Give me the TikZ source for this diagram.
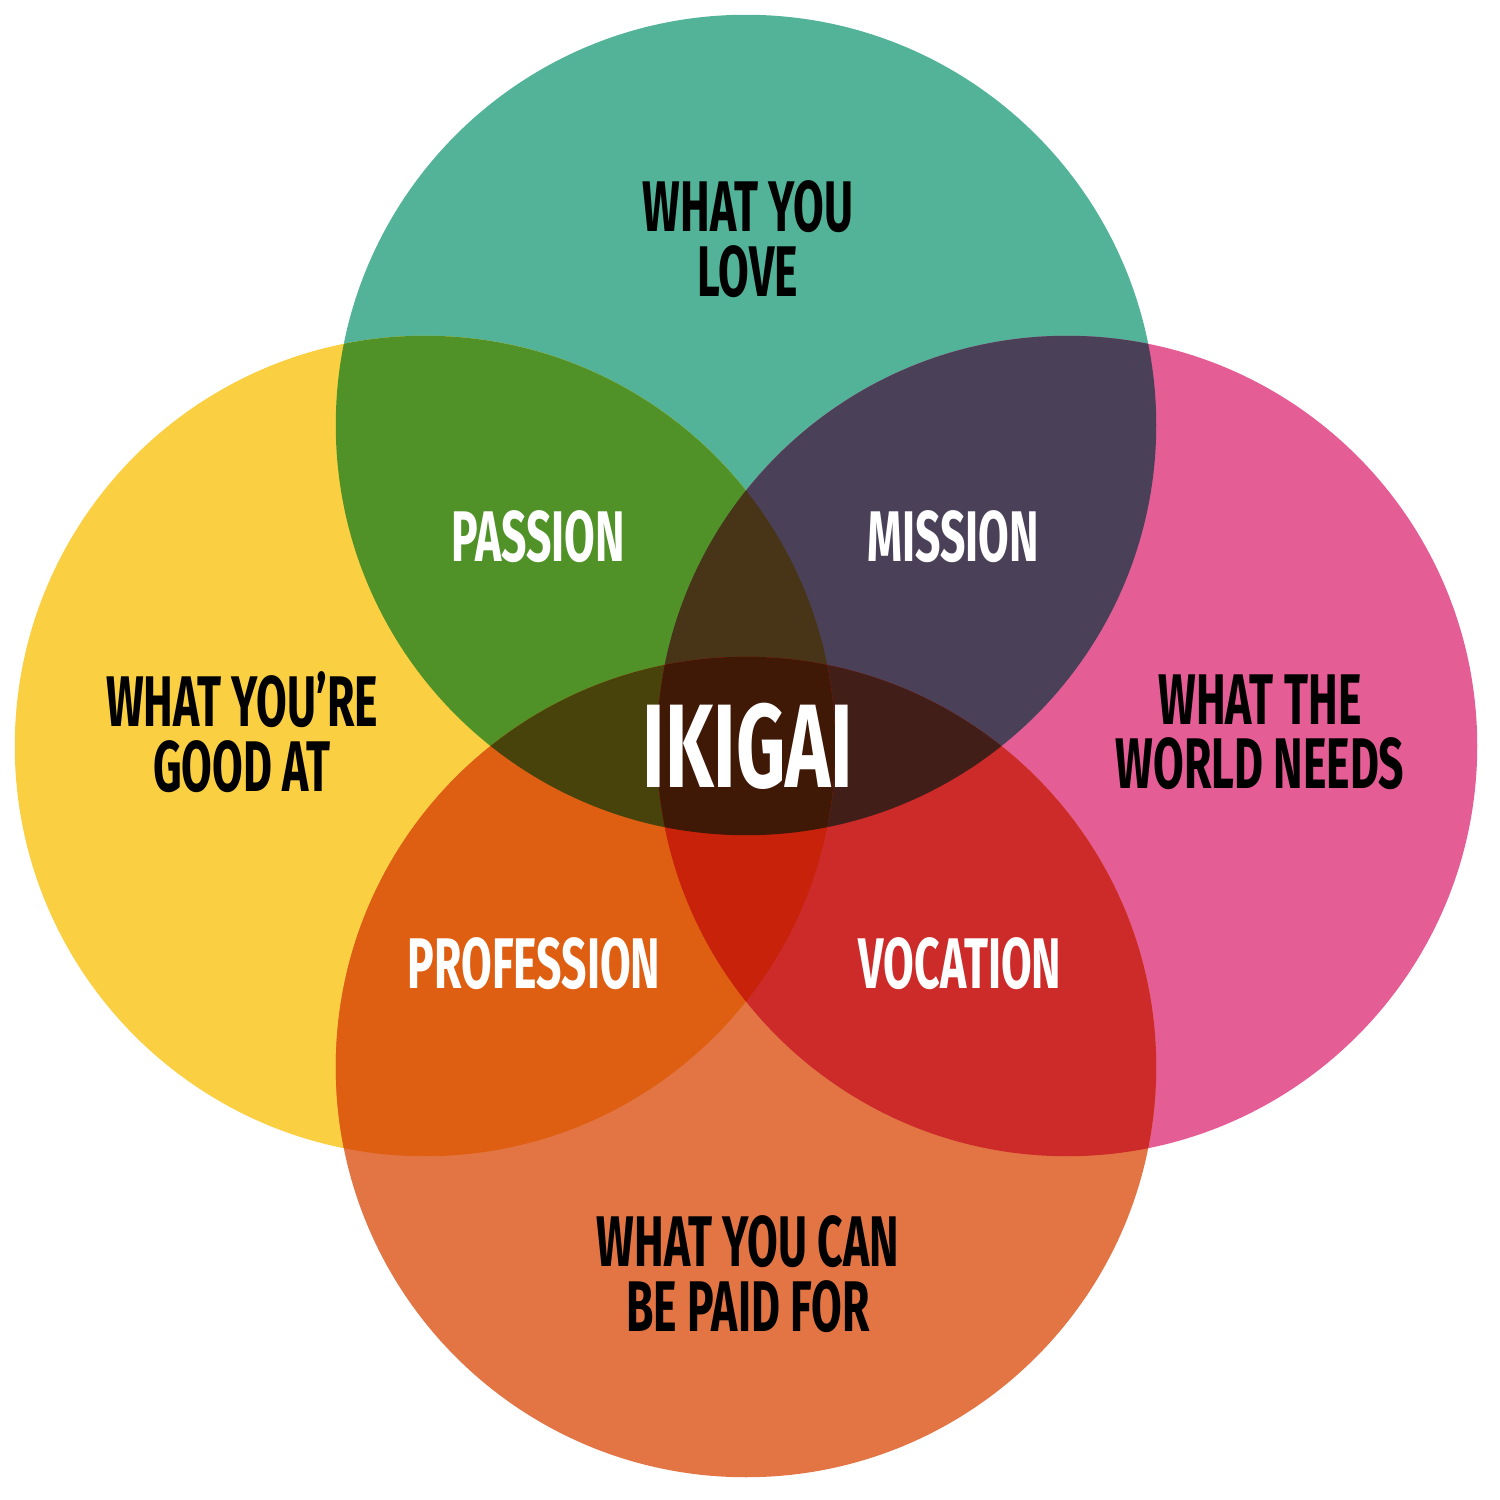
\documentclass[tikz,border=0pt]{standalone}
\usepackage{fontspec}
\usetikzlibrary{positioning}
\newfontfamily\bebas[FakeStretch=0.62]{Fira Sans}
\newfontfamily\bebaswide[FakeStretch=0.645]{Fira Sans}
\definecolor{love}{RGB}{82,179,152}
\definecolor{good}{RGB}{250,208,66}
\definecolor{needs}{RGB}{229,93,149}
\definecolor{paid}{RGB}{227,117,69}
\definecolor{passion}{RGB}{80,146,39}
\definecolor{mission}{RGB}{74,65,89}
\definecolor{profession}{RGB}{222,95,18}
\definecolor{vocation}{RGB}{204,43,41}
\definecolor{lgn}{RGB}{72,53,23}
\definecolor{lgp}{RGB}{72,67,11}
\definecolor{lnp}{RGB}{66,30,24}
\definecolor{gnp}{RGB}{200,35,10}
\definecolor{ikigai}{RGB}{64,24,6}

\begin{document}
\begin{tikzpicture}[
    x=0.01cm, y=-0.01cm,
    outer/.style={font=\bebas\bfseries\fontsize{20.4}{18.3}\selectfont,
                  align=center, text=black, inner sep=0pt},
    inner/.style={font=\bebas\bfseries\fontsize{20.4}{18.3}\selectfont,
                  text=white, inner sep=0pt},
    big/.style={font=\bebaswide\bfseries\fontsize{33.8}{33.8}\selectfont,
                text=white, inner sep=0pt}
  ]
  \useasboundingbox (0,0) rectangle (1500,1500);
  \coordinate (love)  at (746,425);
  \coordinate (good)  at (425,746);
  \coordinate (needs) at (1067,746);
  \coordinate (paid)  at (746,1067);

  % circles
  \foreach \c in {love,good,needs,paid}
    \fill[\c] (\c) circle[radius=4.1cm];
  % two at a time
  \foreach \a/\b/\col in {love/good/passion, love/needs/mission,
                          paid/good/profession, paid/needs/vocation}{
    \begin{scope}
      \clip (\a) circle[radius=4.1cm];
      \fill[\col] (\b) circle[radius=4.1cm];
    \end{scope}
  }
  % three at a time
  \foreach \a/\b/\c/\col in {love/good/needs/lgn, love/good/paid/lgp,
                             love/needs/paid/lnp, good/needs/paid/gnp}{
    \begin{scope}
      \clip (\a) circle[radius=4.1cm];
      \clip (\b) circle[radius=4.1cm];
      \fill[\col] (\c) circle[radius=4.1cm];
    \end{scope}
  }
  % all four
  \begin{scope}
    \clip (love) circle[radius=4.1cm];
    \clip (good) circle[radius=4.1cm];
    \clip (needs) circle[radius=4.1cm];
    \fill[ikigai] (paid) circle[radius=4.1cm];
  \end{scope}

  \node[outer] (lovetxt)  at (748,239)  {WHAT YOU\\LOVE};
  \node[outer] (goodtxt)  at (242,732)  {WHAT YOU’RE\\GOOD AT};
  \node[outer] (needstxt) at (1260,732) {WHAT THE\\WORLD NEEDS};
  \node[outer] (paidtxt)  at (748,1274) {WHAT YOU CAN\\BE PAID FOR};

  \node[inner] (passiontxt)    at (538,537) {PASSION};
  \node[inner] (missiontxt)    at (953,537) {MISSION};
  \node[inner] (professiontxt) at (534,964) {PROFESSION};
  \node[inner] (vocationtxt)   at (960,964) {VOCATION};
  \node[big]   (ikigaitxt)     at (748,746) {IKIGAI};
\end{tikzpicture}
\end{document}
